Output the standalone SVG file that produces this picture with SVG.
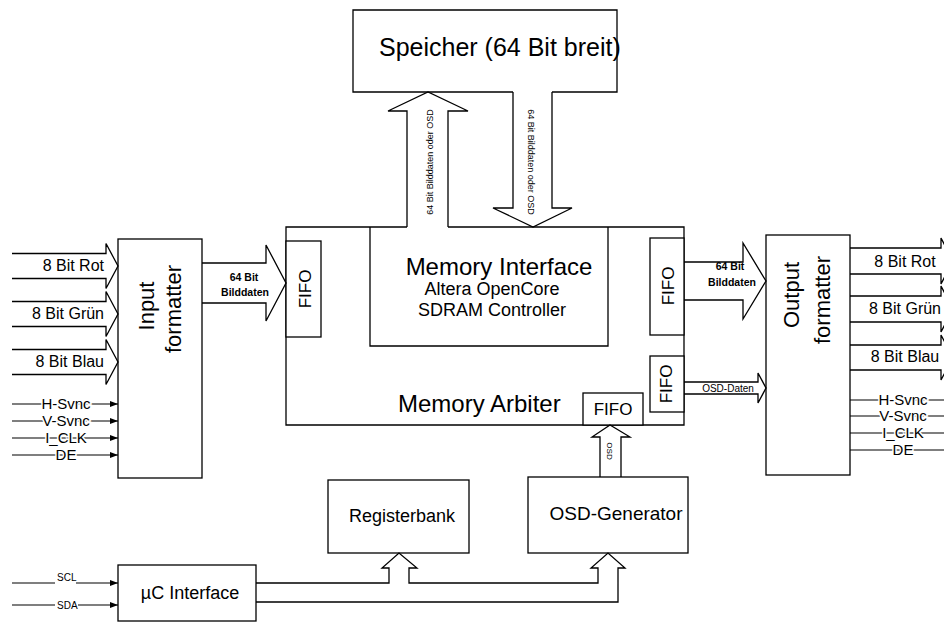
<svg xmlns="http://www.w3.org/2000/svg" width="944" height="622" viewBox="0 0 944 622">
<defs>
<marker id="ah" viewBox="0 0 8 6" refX="8" refY="3" markerWidth="8" markerHeight="6" markerUnits="userSpaceOnUse" orient="auto"><path d="M0,0 L8,3 L0,6 z" fill="#000"/></marker>
</defs>
<style>
.b{fill:#fff;stroke:#000;stroke-width:1.3}
.l{fill:none;stroke:#000;stroke-width:1.3;stroke-linejoin:miter}
.s{fill:none;stroke:#000;stroke-width:1.2}
text{font-family:"Liberation Sans",Arial,sans-serif;fill:#000}
.h{paint-order:stroke;stroke:#fff;stroke-width:3px}
.bd{font-weight:bold;font-size:10.5px;text-anchor:middle}
.sig{font-size:15px;text-anchor:middle}
.ch{font-size:16px}
.ff{font-size:17px;text-anchor:middle}
</style>
<rect width="944" height="622" fill="#fff"/>

<g id="speicher">
<path class="l" d="M513,92 H353 V10 H617 V92 H552"/>
<text x="379" y="56" font-size="25">Speicher (64 Bit breit)</text>
</g>

<g id="memory-arbiter">
<path class="l" d="M407,227 H286 V425 H684 V227 H448"/>
<text x="398" y="412" font-size="24">Memory Arbiter</text>
</g>

<g id="memory-interface">
<path class="l" d="M370,227 V346 H608 V227"/>
<text x="499" y="275" font-size="24" text-anchor="middle">Memory Interface</text>
<text x="492" y="295" font-size="18" text-anchor="middle">Altera OpenCore</text>
<text x="492" y="316" font-size="18" text-anchor="middle">SDRAM Controller</text>
</g>

<g id="fifo-in">
<rect class="b" x="286" y="241" width="35" height="96"/>
<text class="ff" transform="translate(311,289) rotate(-90)">FIFO</text>
</g>
<g id="fifo-out">
<rect class="b" x="650" y="238" width="34" height="97"/>
<text class="ff" transform="translate(674,286) rotate(-90)">FIFO</text>
</g>
<g id="fifo-osd-out">
<rect class="b" x="650" y="356" width="34" height="56"/>
<text class="ff" transform="translate(672,384) rotate(-90)">FIFO</text>
</g>
<g id="fifo-osd-in">
<rect class="b" x="583" y="393" width="60" height="32"/>
<text class="ff" x="613" y="415">FIFO</text>
</g>

<g id="input-formatter">
<rect class="b" x="118" y="239" width="84" height="239"/>
<text transform="translate(154,306) rotate(-90)" font-size="22" text-anchor="middle">Input</text>
<text transform="translate(181,309) rotate(-90)" font-size="22" text-anchor="middle">formatter</text>
</g>

<g id="output-formatter">
<rect class="b" x="766" y="235" width="84" height="240"/>
<text transform="translate(799,295) rotate(-90)" font-size="22" text-anchor="middle">Output</text>
<text transform="translate(830,300) rotate(-90)" font-size="22" text-anchor="middle">formatter</text>
</g>

<g id="registerbank">
<rect class="b" x="328" y="480" width="141" height="73"/>
<text x="402" y="522" font-size="18" text-anchor="middle">Registerbank</text>
</g>

<g id="osd-generator">
<rect class="b" x="528" y="477" width="160" height="76"/>
<text x="616" y="520" font-size="19" text-anchor="middle">OSD-Generator</text>
</g>

<g id="uc-interface">
<rect class="b" x="118" y="565" width="138" height="56"/>
<text x="190" y="599" font-size="18" text-anchor="middle">µC Interface</text>
</g>

<g id="connectors">
<polyline class="l" points="407,227 407,111 388,111 428,92 468,111 448,111 448,227"/>
<text transform="translate(433,162) rotate(-90)" font-size="9" text-anchor="middle">64 Bit Bilddaten oder OSD</text>
<polyline class="l" points="513,92 513,208 493,208 533,227 572,208 552,208 552,92"/>
<text transform="translate(528,162) rotate(90)" font-size="9" text-anchor="middle">64 Bit Bilddaten oder OSD</text>

<polyline class="l" points="12,253.5 106,253.5 106,243.5 118,266 106,288.5 106,278.5 12,278.5"/>
<polyline class="l" points="12,301.5 106,301.5 106,291.5 118,314 106,336.5 106,326.5 12,326.5"/>
<polyline class="l" points="12,349.5 106,349.5 106,339.5 118,362 106,384.5 106,374.5 12,374.5"/>
<text class="ch" x="104" y="271" text-anchor="end">8 Bit Rot</text>
<text class="ch" x="104" y="319" text-anchor="end">8 Bit Grün</text>
<text class="ch" x="104" y="367" text-anchor="end">8 Bit Blau</text>

<line class="s" x1="12" y1="404" x2="118" y2="404" marker-end="url(#ah)"/>
<line class="s" x1="12" y1="421" x2="118" y2="421" marker-end="url(#ah)"/>
<line class="s" x1="12" y1="438" x2="118" y2="438" marker-end="url(#ah)"/>
<line class="s" x1="12" y1="455" x2="118" y2="455" marker-end="url(#ah)"/>
<text class="sig h" x="66" y="409">H-Svnc</text>
<text class="sig h" x="66" y="426">V-Svnc</text>
<text class="sig h" x="66" y="443">I_CLK</text>
<text class="sig h" x="66" y="460">DE</text>

<polyline class="l" points="202,263 266,263 266,245 286,283 266,321 266,303 202,303"/>
<text class="bd" x="244" y="281">64 Bit</text>
<text class="bd" x="245" y="296">Bilddaten</text>

<polyline class="l" points="684,262 743,262 743,243 766,281 743,319 743,300 684,300"/>
<text class="bd" x="730" y="270">64 Bit</text>
<text class="bd" x="732" y="286">Bilddaten</text>

<polyline class="l" points="684,382 758,382 758,373 766,388 758,403 758,394 684,394"/>
<text x="728" y="392" font-size="10" text-anchor="middle">OSD-Daten</text>

<polyline class="l" points="850,248 941,248 941,238 953,261 941,284 941,274 850,274"/>
<polyline class="l" points="850,296 941,296 941,286 953,309 941,332 941,322 850,322"/>
<polyline class="l" points="850,345 941,345 941,335 953,357.5 941,380 941,370 850,370"/>
<text class="ch" x="905" y="267" text-anchor="middle">8 Bit Rot</text>
<text class="ch" x="905" y="314" text-anchor="middle">8 Bit Grün</text>
<text class="ch" x="905" y="362" text-anchor="middle">8 Bit Blau</text>

<line class="s" x1="850" y1="400" x2="944" y2="400"/>
<line class="s" x1="850" y1="416" x2="944" y2="416"/>
<line class="s" x1="850" y1="433" x2="944" y2="433"/>
<line class="s" x1="850" y1="450" x2="944" y2="450"/>
<text class="sig h" x="903" y="405">H-Svnc</text>
<text class="sig h" x="903" y="421">V-Svnc</text>
<text class="sig h" x="903" y="438">I_CLK</text>
<text class="sig h" x="903" y="455">DE</text>

<polyline class="l" points="600,477 600,437 592,437 610,425 630,437 621,437 621,477"/>
<text transform="translate(607,451) rotate(90)" font-size="8" text-anchor="middle">OSD</text>

<polyline class="l" points="256,583 389,583 389,568 382,568 399,553 417,568 409,568 409,583 598,583 598,568 591,568 608,553 625,568 618,568 618,602 256,602"/>

<line class="s" x1="12" y1="583" x2="55" y2="583"/>
<line class="s" x1="76" y1="583" x2="118" y2="583" marker-end="url(#ah)"/>
<text x="57" y="581" font-size="10">SCL</text>
<line class="s" x1="12" y1="605" x2="55" y2="605"/>
<line class="s" x1="78" y1="605" x2="118" y2="605" marker-end="url(#ah)"/>
<text x="57" y="609" font-size="10">SDA</text>
</g>
</svg>
